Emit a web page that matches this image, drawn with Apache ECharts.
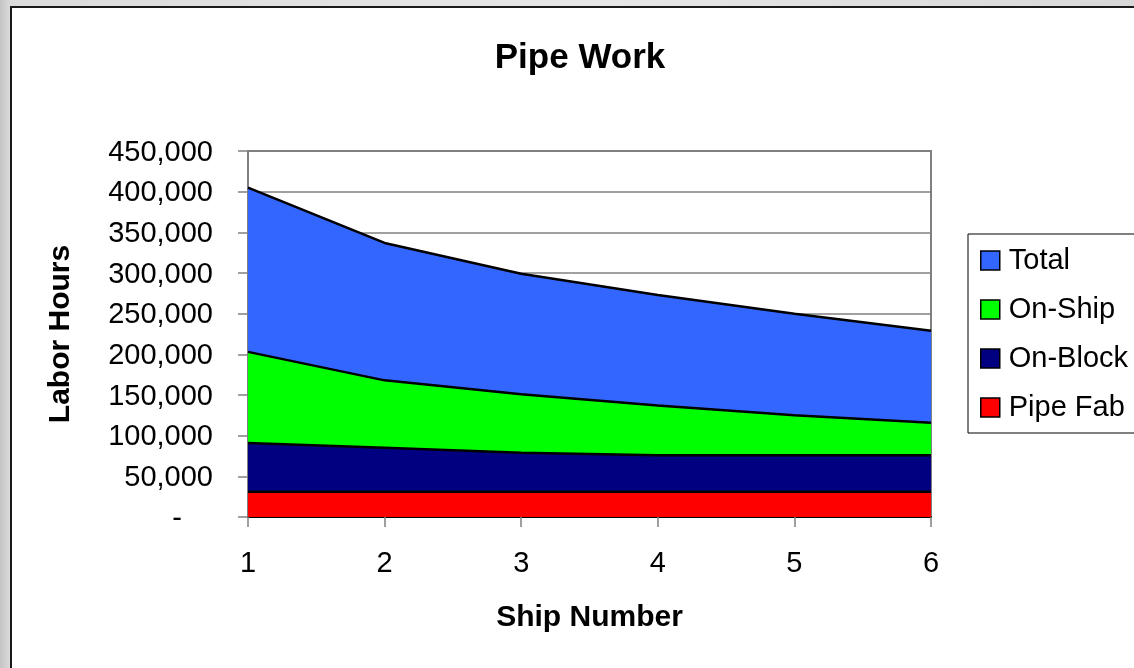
<!DOCTYPE html>
<html>
<head>
<meta charset="utf-8">
<script src="https://cdn.jsdelivr.net/npm/echarts@6/dist/echarts.min.js"></script>
<style>
  html, body { margin: 0; padding: 0; width: 1134px; height: 668px; overflow: hidden; }
  body { background: linear-gradient(to right, #c4c4c4 0px, #dcdcdc 11px, #e6e6e6 600px, #d8d8d8 1134px); position: relative; }
  #frame { position: absolute; left: 10px; top: 6px; width: 1140px; height: 680px; background: #fff; border: 2px solid #1a1a1a; box-sizing: border-box; }
  #chart { position: absolute; left: 0; top: 0; width: 1134px; height: 668px; }
</style>
</head>
<body>
<div id="frame"></div>
<div id="chart"></div>
<script>
const categories = ['1', '2', '3', '4', '5', '6'];
const seriesNames = ['Total', 'On-Ship', 'On-Block', 'Pipe Fab'];
const total   = [405000, 337000, 299000, 273000, 250000, 229000];
const onShip  = [203000, 168000, 151000, 137000, 125000, 116000];
const onBlock = [91000, 85000, 79000, 76000, 76000, 76000];
const pipeFab = [31000, 31000, 31000, 31000, 31000, 31000];
const colors = ['#3366ff', '#00ff00', '#000080', '#ff0000'];

const FONT = '"Liberation Sans", Arial, sans-serif';
const chart = echarts.init(document.getElementById('chart'), null, { renderer: 'canvas' });

function fmt(v) {
  if (v === 0) return '{d|-}';
  return v.toString().replace(/\B(?=(\d{3})+(?!\d))/g, ',');
}

const dataSets = [total, onShip, onBlock, pipeFab];

chart.setOption({
  backgroundColor: 'transparent',
  animation: false,
  title: {
    text: 'Pipe Work',
    left: 580,
    top: 41,
    padding: 0,
    textAlign: 'center',
    textStyle: { fontFamily: FONT, fontSize: 35, fontWeight: 'bold', color: '#000' }
  },
  legend: {
    orient: 'vertical',
    left: 968,
    top: 234,
    padding: [12, 10, 11, 12],
    itemGap: 20,
    itemWidth: 19,
    itemHeight: 19,
    icon: 'rect',
    backgroundColor: '#fff',
    borderColor: '#000',
    borderWidth: 1,
    data: seriesNames.map((n, i) => ({
      name: n,
      itemStyle: { color: colors[i], borderColor: '#000', borderWidth: 1.5 }
    })),
    textStyle: { fontFamily: FONT, fontSize: 29, color: '#000', width: 160, padding: [0, 0, 0, 4] }
  },
  grid: {
    left: 248, right: 203, top: 151, bottom: 151,
    show: true, borderColor: '#808080', borderWidth: 2, backgroundColor: 'transparent'
  },
  xAxis: {
    type: 'category',
    data: categories,
    boundaryGap: false,
    name: 'Ship Number',
    nameLocation: 'middle',
    nameGap: 86,
    nameTextStyle: { fontFamily: FONT, fontSize: 30, fontWeight: 'bold', color: '#000' },
    axisLine: { lineStyle: { color: '#000', width: 2 } },
    axisTick: { show: true, length: 10, lineStyle: { color: '#808080', width: 1.5 } },
    axisLabel: { margin: 32, fontFamily: FONT, fontSize: 29, color: '#000' },
    splitLine: { show: false }
  },
  yAxis: {
    type: 'value',
    min: 0,
    max: 450000,
    interval: 50000,
    name: 'Labor Hours',
    nameLocation: 'middle',
    nameGap: 172,
    nameRotate: 90,
    nameTextStyle: { fontFamily: FONT, fontSize: 30, fontWeight: 'bold', color: '#000' },
    axisLine: { show: true, lineStyle: { color: '#808080', width: 2 } },
    axisTick: { show: true, length: 10, lineStyle: { color: '#808080', width: 1.5 } },
    axisLabel: {
      margin: 35, fontFamily: FONT, fontSize: 29, color: '#000',
      padding: [3, 0, 0, 0],
      formatter: fmt,
      rich: { d: { fontFamily: FONT, fontSize: 29, color: '#000', padding: [0, 31, 0, 0] } }
    },
    splitLine: { show: true, lineStyle: { color: '#808080', width: 1.5 } }
  },
  series: seriesNames.map((n, i) => ({
    name: n,
    type: 'line',
    data: dataSets[i],
    symbol: 'none',
    lineStyle: { color: '#000', width: 2.5 },
    itemStyle: { color: colors[i] },
    areaStyle: { color: colors[i], opacity: 1 },
    z: 2 + i
  }))
});
</script>
</body>
</html>
